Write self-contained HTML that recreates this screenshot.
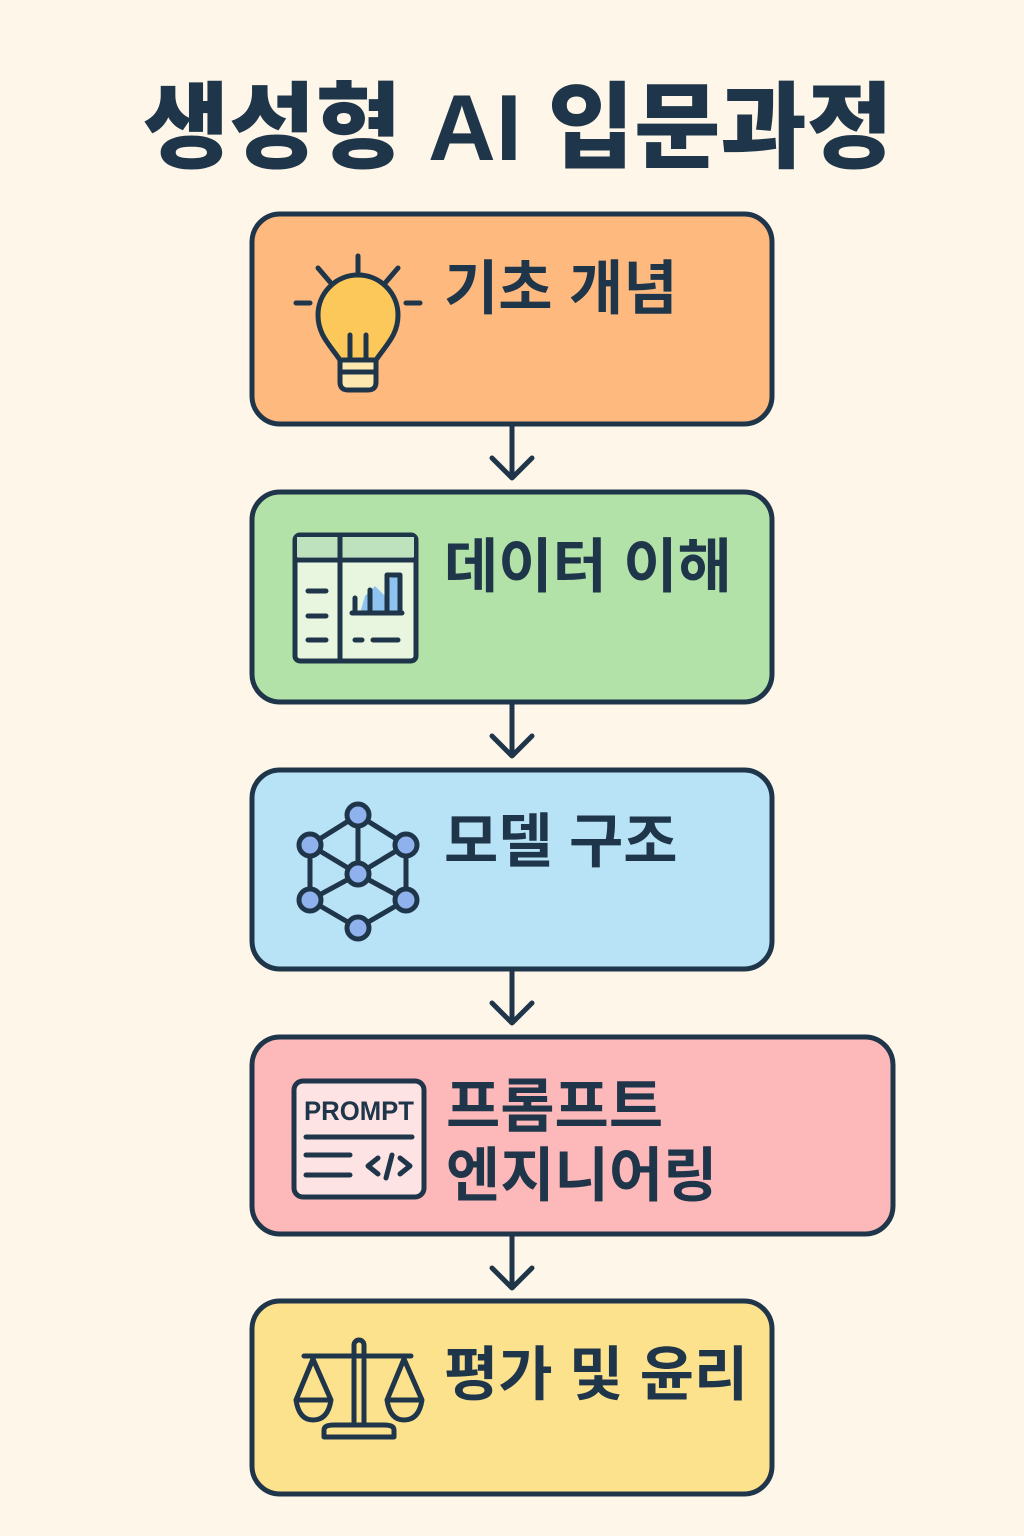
<!DOCTYPE html>
<html><head><meta charset="utf-8"><style>
html,body{margin:0;padding:0;background:#fdf6e9;}
svg{display:block}
text{font-family:"Liberation Sans","Noto Sans CJK KR",sans-serif;font-weight:bold;fill:#1f3549}
</style></head><body>
<svg width="1024" height="1536" viewBox="0 0 1024 1536" xmlns="http://www.w3.org/2000/svg">
<rect width="1024" height="1536" fill="#fdf6e9"/>
<text x="518" y="160" font-size="94" text-anchor="middle" style="font-weight:900" textLength="750" lengthAdjust="spacingAndGlyphs">생성형 AI 입문과정</text>
<g stroke="#1f3549" stroke-width="5" fill="none" stroke-linecap="round" stroke-linejoin="round">
<rect x="252" y="214" width="520" height="210" rx="28" fill="#fdb97e"/>
<rect x="252" y="492" width="520" height="210" rx="28" fill="#b2e2a8"/>
<rect x="252" y="770" width="520" height="199" rx="28" fill="#b8e2f6"/>
<rect x="252" y="1037" width="641" height="197" rx="28" fill="#fdb9ba"/>
<rect x="252" y="1301" width="520" height="193" rx="28" fill="#fde28e"/>
<path d="M512 426V478M492 458L512 478L532 458"/>
<path d="M512 704V756M492 736L512 756L532 736"/>
<path d="M512 971V1023M492 1003L512 1023L532 1003"/>
<path d="M512 1236V1288M492 1268L512 1288L532 1268"/>
<path d="M358 256V272M318 268L330 282M398 268L386 282M296 303H310M406 303H420"/>
<path d="M340 360C330 345 318 335 318 315A40 40 0 0 1 398 315C398 335 386 345 376 360Z" fill="#fdc85a"/>
<path d="M340 360H376V382Q376 390 368 390H348Q340 390 340 382Z" fill="#fde9b0"/>
<path d="M340 372H376"/>
<path d="M350 360V335M366 360V335"/>
<rect x="295" y="535" width="121" height="126" rx="5" fill="#e8f6df"/>
<rect x="297" y="537" width="117" height="20" fill="#bde2bd" stroke="none"/>
<path d="M295 560H416M340 535V661"/>
<path d="M308 591H326M308 616H326M308 640H326M355 640H362M373 640H398"/>
<path d="M365 596L375 586L385 596L390 578L400 576V613H360Z" fill="#8ec3f0" stroke="none"/>
<path d="M352 613H402M355 613V598M370 613V590M387 613V575H400V613"/>
<g fill="#8fb1ee">
<path d="M358 815L310 845L310 900L358 928L406 900L406 845ZM358 815V874M310 845L358 874L406 845M310 900L358 874L406 900" fill="none"/>
<circle cx="358" cy="815" r="11"/><circle cx="310" cy="845" r="11"/><circle cx="406" cy="845" r="11"/>
<circle cx="358" cy="874" r="11"/><circle cx="310" cy="900" r="11"/><circle cx="406" cy="900" r="11"/>
<circle cx="358" cy="928" r="11"/>
</g>
<rect x="294" y="1081" width="130" height="116" rx="9" fill="#fde3e3"/>
<path d="M306 1137H412M306 1155H350M306 1175H350M378 1158L368 1166L378 1174M392 1155L386 1178M400 1158L410 1166L400 1174"/>
<path d="M304 1356H411M354 1360V1425M364 1360V1425M354 1358V1345A5 5 0 0 1 364 1345V1358"/>
<path d="M324 1437V1430Q324 1425 334 1425H384Q394 1425 394 1430V1437Z"/>
<path d="M313 1359L296 1400M313 1359L331 1400M296 1400H331Q328 1420 313 1420Q299 1420 296 1400Z"/>
<path d="M404 1359L387 1400M404 1359L422 1400M387 1400H422Q419 1420 404 1420Q390 1420 387 1400Z"/>
</g>
<text x="304" y="1120" font-size="27" style="font-family:'Liberation Sans',sans-serif" textLength="110" lengthAdjust="spacingAndGlyphs">PROMPT</text>
<g font-size="59">
<text x="444" y="309">기초 개념</text>
<text x="444" y="587">데이터 이해</text>
<text x="444" y="862">모델 구조</text>
<text x="446" y="1127">프롬프트</text>
<text x="446" y="1196">엔지니어링</text>
<text x="444" y="1395">평가 및 윤리</text>
</g>
</svg>
</body></html>
